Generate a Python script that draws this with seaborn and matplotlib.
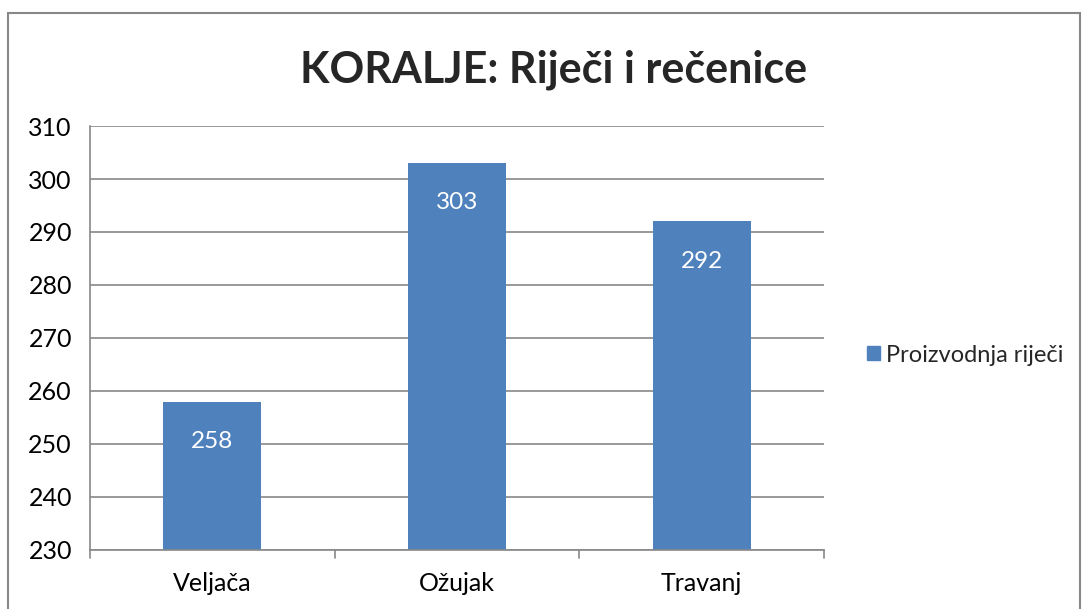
import matplotlib
matplotlib.use('Agg')
import matplotlib.pyplot as plt
from matplotlib.patches import Rectangle
import seaborn as sns
import pandas as pd

# Podaci s grafa
mjeseci = ['Veljača', 'Ožujak', 'Travanj']
proizvodnja_rijeci = [258, 303, 292]
y_ticks = [230, 240, 250, 260, 270, 280, 290, 300, 310]

df = pd.DataFrame({'mjesec': mjeseci, 'vrijednost': proizvodnja_rijeci})

sns.set_style('white')
plt.rcParams['font.family'] = ['Lato', 'DejaVu Sans']

plava = '#4F81BD'
siva = '#888888'

fig = plt.figure(figsize=(10.87, 6.09), dpi=100)
ax = fig.add_axes([0.0828, 0.0969, 0.6752, 0.6962])

sns.barplot(data=df, x='mjesec', y='vrijednost', color=plava, width=0.4,
            saturation=1, linewidth=0, ax=ax)

ax.set_ylim(230, 310)
ax.set_yticks(y_ticks)
ax.set_xlim(-0.5, 2.5)
ax.set_xlabel('')
ax.set_ylabel('')

# Mreža
for t in y_ticks:
    ax.axhline(t, color=siva, lw=1.2, zorder=0)
ax.set_axisbelow(True)

for s in ['top', 'right']:
    ax.spines[s].set_visible(False)
for s in ['left', 'bottom']:
    ax.spines[s].set_color(siva)
    ax.spines[s].set_linewidth(1.2)

ax.tick_params(axis='y', length=8, width=1.2, color=siva, labelsize=18, pad=5,
               labelcolor='black')
ax.set_xticks([0, 1, 2])
ax.tick_params(axis='x', length=0, labelsize=18, pad=16, labelcolor='black')
# Crtice između kategorija
for xb in [-0.5, 0.5, 1.5, 2.5]:
    ax.plot([xb, xb], [0, -0.02], transform=ax.get_xaxis_transform(),
            color=siva, lw=1.2, clip_on=False)

# Oznake vrijednosti
for i, v in enumerate(proizvodnja_rijeci):
    ax.text(i, v - 7.5, str(v), ha='center', va='center', color='white',
            fontsize=17.5)

# Naslov
fig.text(0.509, 0.885, 'KORALJE: Riječi i rečenice', ha='center', va='center',
         fontsize=31, fontweight='bold')

# Legenda
fig.legend(handles=[Rectangle((0, 0), 1, 1, color=plava)],
           labels=['Proizvodnja riječi'], loc='center left',
           bbox_to_anchor=(0.7785, 0.417), frameon=False, fontsize=17,
           handlelength=0.55, handleheight=0.55, handletextpad=0.25)

# Okvir grafikona
fig.add_artist(Rectangle((8 / 1087, -0.05), 1072 / 1087, 1 - 13 / 609 + 0.05,
                         transform=fig.transFigure, fill=False,
                         edgecolor=siva, lw=1.5))

fig.savefig('out.png', dpi=100)
